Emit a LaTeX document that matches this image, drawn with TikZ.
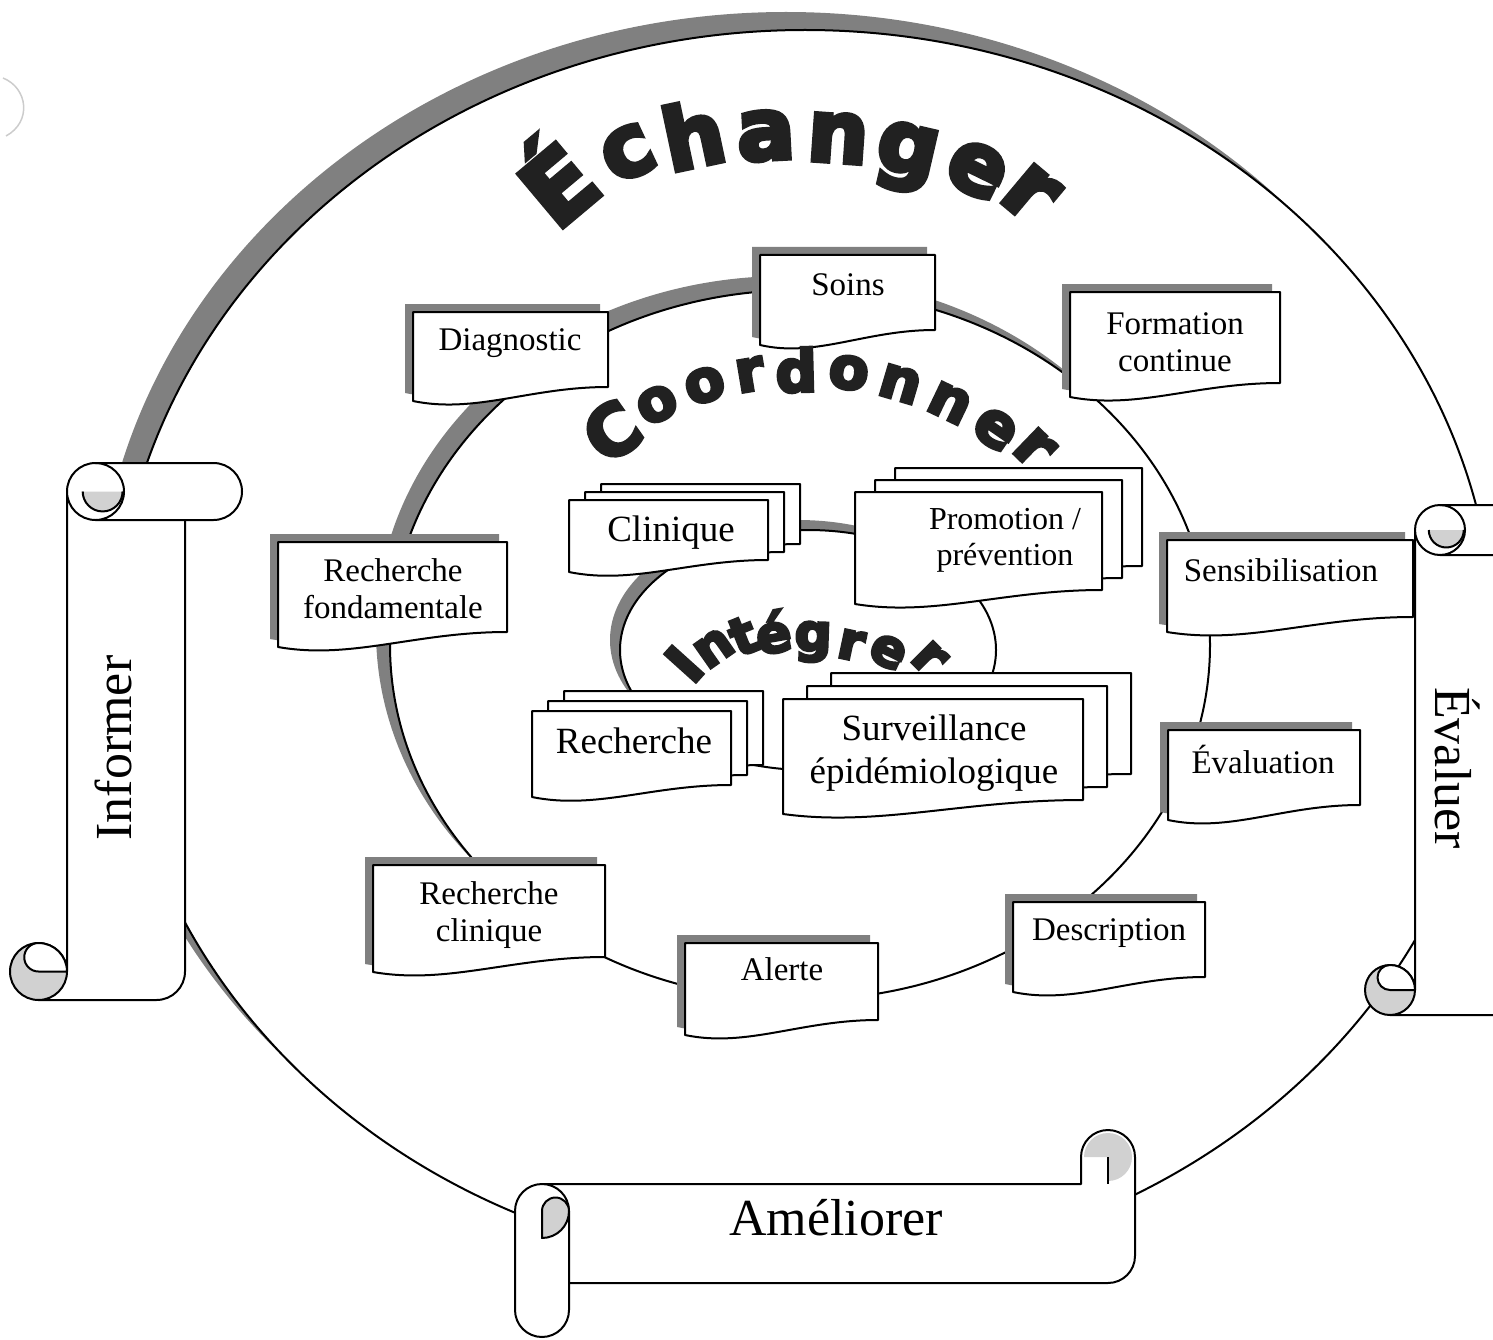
\documentclass[tikz,border=0pt]{standalone}
\usepackage{fontspec}
\setmainfont{Liberation Serif}
\newfontfamily\artfont[BoldFeatures={FakeBold=5.5}]{DejaVu Sans}
\usetikzlibrary{calc}

\definecolor{bandgray}{gray}{0.5}
\definecolor{curlgray}{gray}{0.82}
\definecolor{fadegray}{gray}{0.8}
\definecolor{artink}{gray}{0.13}

\tikzset{
  ink/.style={draw=black, line width=2pt, line join=round},
  paper/.style={ink, fill=white},
  doctext/.style={font=\fontsize{33}{37}\selectfont, align=center, inner sep=0pt},
  stacktext/.style={font=\fontsize{37}{43}\selectfont, align=center, inner sep=0pt},
  promotext/.style={font=\fontsize{32}{36}\selectfont, align=center, inner sep=0pt},
  scrolltext/.style={font=\fontsize{52}{60}\selectfont, inner sep=0pt},
  art/.style={font=\artfont\bfseries\fontsize{#1}{#1}\selectfont, text=artink, inner sep=0pt},
}

% document shape with a wavy lower edge: style, left, top, right, lower-right, lower-left
\newcommand\docpath[6]{%
  \path[#1] (#2,#3) -- (#4,#3) -- (#4,#5)
    .. controls ({#4-0.4*(#4-#2)},#5) and ({#2+0.32*(#4-#2)},{#6+13}) .. (#2,#6) -- cycle;}
% single document with a shadow up and to the left
\newcommand\shadowdoc[5]{%
  \docpath{fill=bandgray, shift={(-8,-8)}}{#1}{#2}{#3}{#4}{#5}%
  \docpath{paper}{#1}{#2}{#3}{#4}{#5}}
% pile of three documents, each sheet offset by (#6,#7)
\newcommand\piledoc[7]{%
  \docpath{paper, shift={({2*#6},{2*#7})}}{#1}{#2}{#3}{#4}{#5}%
  \docpath{paper, shift={(#6,#7)}}{#1}{#2}{#3}{#4}{#5}%
  \docpath{paper}{#1}{#2}{#3}{#4}{#5}}

% vertical scroll: left, top, right, bottom, roll thickness
\newcommand\vscroll[5]{%
  \pgfmathsetmacro\vsL{#1}\pgfmathsetmacro\vsT{#2}%
  \pgfmathsetmacro\vsR{#3}\pgfmathsetmacro\vsB{#4}%
  \pgfmathsetmacro\vsC{#5}\pgfmathsetmacro\vsH{#5/2}\pgfmathsetmacro\vsQ{#5/4}%
  \pgfmathsetmacro\vsA{#1+#5}\pgfmathsetmacro\vsZ{#3-#5}%
  \draw[paper] (\vsA,{\vsT+\vsH}) -- (\vsA,{\vsB-\vsH}) -- ({\vsL+\vsH},{\vsB-\vsH})
     -- ({\vsL+\vsH},\vsB) -- ({\vsZ-\vsH},\vsB) arc[start angle=90, end angle=0, radius=\vsH]
     -- (\vsZ,{\vsT+\vsH}) -- cycle;
  \draw[paper] ({\vsA+\vsH},\vsT) -- ({\vsR-\vsH},\vsT) arc[start angle=-90, end angle=90, radius=\vsH]
     -- ({\vsA+\vsH},{\vsT+\vsC}) arc[start angle=90, end angle=270, radius=\vsH] -- cycle;
  \fill[curlgray] ({\vsA+0.55*\vsH},{\vsT+\vsH}) arc[start angle=180, end angle=0, radius={0.7*\vsH}] -- cycle;
  \draw[ink] ({\vsA+0.55*\vsH},{\vsT+\vsH}) arc[start angle=180, end angle=0, radius={0.7*\vsH}];
  \draw[ink] ({\vsA+\vsH},\vsT) arc[start angle=-90, end angle=90, radius=\vsH];
  \draw[ink, fill=curlgray] ({\vsL+\vsH},{\vsB-\vsH}) circle[radius=\vsH];
  \draw[paper] ({\vsL+\vsH},{\vsB-\vsC}) arc[start angle=-90, end angle=0, radius=\vsH]
     -- ({\vsL+\vsH},{\vsB-\vsH}) arc[start angle=90, end angle=270, radius=\vsQ] -- cycle;
}

% horizontal scroll: left, top, right, bottom, roll thickness
\newcommand\hscroll[5]{%
  \pgfmathsetmacro\hsL{#1}\pgfmathsetmacro\hsT{#2}%
  \pgfmathsetmacro\hsR{#3}\pgfmathsetmacro\hsB{#4}%
  \pgfmathsetmacro\hsC{#5}\pgfmathsetmacro\hsH{#5/2}\pgfmathsetmacro\hsQ{#5/4}%
  \draw[paper] ({\hsL+\hsH},{\hsT+\hsC}) -- ({\hsR-\hsC},{\hsT+\hsC}) -- ({\hsR-\hsC},{\hsT+\hsH})
     arc[start angle=180, end angle=360, radius=\hsH] -- (\hsR,{\hsB-\hsC-\hsH})
     arc[start angle=0, end angle=90, radius=\hsH] -- ({\hsL+\hsH},{\hsB-\hsC}) -- cycle;
  \fill[curlgray] ({\hsR-\hsH},{\hsT+\hsH}) -- ({\hsR-\hsC+3},{\hsT+\hsH})
     arc[start angle=180, end angle=450, radius={\hsH-3}] -- cycle;
  \draw[ink] ({\hsR-\hsH},{\hsT+\hsH}) -- ({\hsR-\hsH},{\hsT+\hsC});
  \draw[paper] (\hsL,{\hsT+\hsC+\hsH}) arc[start angle=180, end angle=360, radius=\hsH]
     -- ({\hsL+\hsC},{\hsB-\hsH}) arc[start angle=0, end angle=180, radius=\hsH] -- cycle;
  \draw[ink, fill=curlgray] ({\hsL+\hsH},{\hsT+\hsC+\hsH}) arc[start angle=180, end angle=360, radius=\hsQ]
     -- ({\hsL+\hsC},{\hsT+\hsC+\hsH}) arc[start angle=0, end angle=90, radius=\hsH] -- cycle;
}

\begin{document}
\begin{tikzpicture}[x=1pt,y=-1pt]
\useasboundingbox (0,0) rectangle (1493,1340);
\clip (0,0) rectangle (1493,1340);

% faint mark at the upper left edge
\draw[fadegray, line width=1.5pt] (3,78) .. controls (28,88) and (32,122) .. (6,136);

% outer ring (Échanger) with its shaded rim
\fill[bandgray] (786,632) ellipse [x radius=690, y radius=620];
\draw[ink, fill=white] (805,650) ellipse [x radius=690, y radius=620];

% middle ring (Coordonner)
\fill[bandgray] (786,631) ellipse [x radius=410, y radius=355];
\draw[ink, fill=white] (800,645) ellipse [x radius=410, y radius=355];

% inner ring (Intégrer)
\fill[bandgray] (798,640) ellipse [x radius=188, y radius=120];
\draw[ink, fill=white] (808,650) ellipse [x radius=188, y radius=120];

% documents on the middle ring
\shadowdoc{760}{255}{935}{330}{345}
\node[doctext] (soins) at (848,285) {Soins};
\shadowdoc{413}{312}{608}{387}{401}
\node[doctext] (diagnostic) at (510,343) {Diagnostic};
\shadowdoc{1070}{292}{1280}{383}{397}
\node[doctext] (formation) at (1175,342) {Formation\\continue};
\shadowdoc{278}{542}{507}{632}{647}
\node[doctext] (rfond) at (393,589) {Recherche\\fondamentale};
\shadowdoc{1167}{540}{1413}{617}{632}
\node[doctext] (sensib) at (1281,570) {Sensibilisation};
\shadowdoc{1168}{730}{1360}{805}{820}
\node[doctext] (evaluation) at (1263,759) {Évaluation};
\shadowdoc{1013}{902}{1205}{977}{992}
\node[doctext] (description) at (1109,933) {Description};
\shadowdoc{685}{943}{878}{1020}{1035}
\node[doctext] (alerte) at (782,969) {Alerte};
\shadowdoc{373}{865}{605}{957}{972}
\node[doctext] (rclin) at (489,915) {Recherche\\clinique};

% document piles on the inner ring
\piledoc{569}{500}{768}{560}{572}{16}{-8}
\node[stacktext] (clinique) at (671,533) {Clinique};
\piledoc{855}{492}{1102}{590}{604}{20}{-12}
\node[promotext] (promotion) at (1005,540) {Promotion /\\prévention};
\piledoc{532}{711}{731}{785}{797}{16}{-10}
\node[stacktext] (recherche) at (634,741) {Recherche};
\piledoc{783}{699}{1083}{800}{814}{24}{-13}
\node[stacktext] (surveillance) at (934,753) {Surveillance\\épidémiologique};

% arched headings
\foreach \lettr/\x/\y/\rot/\scl [count=\i] in {É/553/178/40/1.1, c/628/153/25/1, h/693/134/12/1,
    a/766/136/3/1, n/838/138/-4/1, g/906/158/-13/1, e/977/170/-26/1, r/1030/193/-40/1.05}
  \node[art=86, rotate=\rot, scale=\scl] (ech\i) at (\x,\y) {\lettr};

\foreach \lettr/\phi/\scl [count=\i] in {C/-35.2/1.2, o/-26.2/1, o/-17.4/1, r/-9.5/1, d/-1.5/1,
    o/7.5/1, n/16.5/1, n/25.6/1, e/34.6/1.05}
  \node[art=58, rotate=-\phi, scale=\scl] (coo\i) at ({805+335*sin(\phi)},{705-335*cos(\phi)}) {\lettr};
\node[art=58, rotate=-44, scale=1.1] (coo10) at (1034,448) {r};

\foreach \lettr/\x/\y/\rot/\scl [count=\i] in {I/684/664/48/1.1, n/714/648/35/1, t/743/636/22/1,
    é/773/632/10/1, g/813/642/-2/1, r/851/645/-12/1, e/888/652/-26/1, r/929/658/-45/1.05}
  \node[art=52, rotate=\rot, scale=\scl] (int\i) at (\x,\y) {\lettr};

% scrolls
\vscroll{10}{463}{242}{1000}{57}
\node[scrolltext, rotate=90] (informer) at (113,748) {Informer};
\vscroll{1365}{505}{1600}{1015}{50}
\node[scrolltext, rotate=-90] (evaluer) at (1458,768) {Évaluer};
\hscroll{515}{1130}{1135}{1337}{54}
\node[scrolltext] (ameliorer) at (836,1218) {Améliorer};
\end{tikzpicture}
\end{document}
